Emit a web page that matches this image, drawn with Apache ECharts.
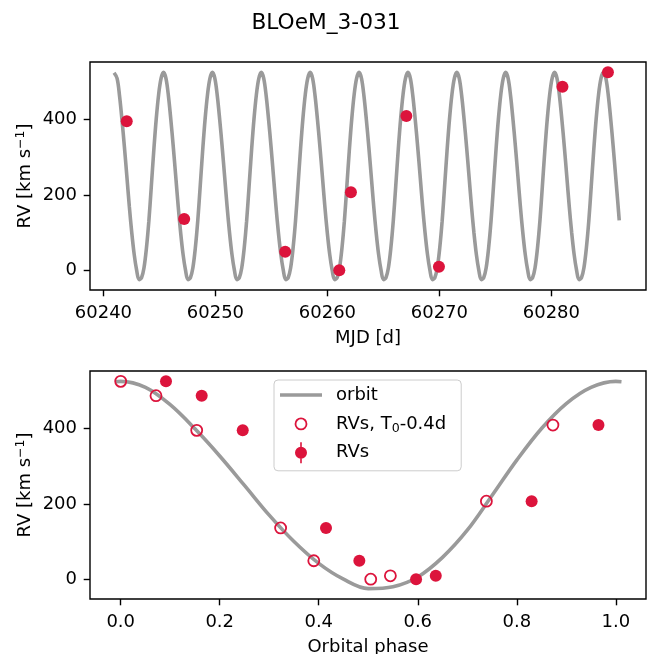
<!DOCTYPE html>
<html><head><meta charset="utf-8">
<script src="https://cdn.jsdelivr.net/npm/echarts@6/dist/echarts.min.js"></script>
<style>html,body{margin:0;padding:0;background:#fff}#c{width:652px;height:654px}</style>
</head><body><div id="c"></div>
<script>
// ---------------- data ----------------
const chartTitle = 'BLOeM_3-031';

// observed RVs, top panel (time domain)
const rvMJD   = [60242.08, 60247.21, 60256.23, 60261.06, 60262.10, 60267.05, 60269.96, 60280.99, 60285.05];
const rvValue = [395, 136, 49, 0, 207, 409, 9, 487, 525];
// same RVs folded on the orbital phase (filled) and with T0-0.4d (open)
const rvPhase      = [0.2465, 0.4147, 0.482, 0.5966, 0.830, 0.965, 0.6364, 0.1636, 0.0915];
const rvPhaseShift = [0.1535, 0.323, 0.390, 0.505, 0.7386, 0.873, 0.5447, 0.0713, 0.000];

const orbitPhase = [-0.0115, 0.00, 0.05, 0.10, 0.15, 0.20, 0.25, 0.30, 0.35, 0.40, 0.45, 0.50,
                    0.55, 0.60, 0.65, 0.70, 0.75, 0.80, 0.85, 0.90, 0.95, 1.00, 1.0115];
const orbitRV    = [524, 525, 509, 463, 399, 327, 249, 170, 100, 42, 0, -25,
                    -20, 6, 58, 130, 222, 316, 400, 466, 509, 525, 524];
// period and reference epoch read from the repeating peaks in the upper panel
const orbitPeriod = 4.365;
const orbitT0     = 60241.0;
const orbitEndMJD = 60286.06;
const orbitEndRV  = 132;

// tick labels
const mjdTicks   = [60240, 60250, 60260, 60270, 60280];
const rvTicks    = [0, 200, 400];
const phaseTicks = [0.0, 0.2, 0.4, 0.6, 0.8, 1.0];

// ---------------- build series data ----------------
const topPoints = rvMJD.map((t, i) => [t, rvValue[i]]);
const phasePoints = rvPhase.map((p, i) => [p, rvValue[i]]);
const phaseShiftPoints = rvPhaseShift.map((p, i) => [p, rvValue[i]]);
const phaseCurve = orbitPhase.map((p, i) => [p, orbitRV[i]]);

const topCurve = [];
outer:
for (let k = 0; k <= 10; k++) {
  for (let i = 0; i < orbitPhase.length; i++) {
    const ph = orbitPhase[i];
    if (ph >= 1) continue;
    if (k > 0 && ph < 0) continue;
    const t = orbitT0 + (k + ph) * orbitPeriod;
    if (t > orbitEndMJD) break outer;
    topCurve.push([t, orbitRV[i]]);
  }
}
topCurve.push([orbitEndMJD, orbitEndRV]);

// ---------------- styling ----------------
const FONT = 'DejaVu Sans';
const RED = '#dc143c';
const GREY = '#9a9a9a';

const tickStyle = {show: true, inside: false, length: 6.3, lineStyle: {color: '#000', width: 1.4}};
const labelBase = {color: '#000', fontSize: 18, fontFamily: FONT};

function yAxis(gridIndex) {
  return {
    type: 'value', gridIndex, min: -52.5, max: 552.5,
    name: 'RV [km s{sup|−1}]', nameLocation: 'middle', nameGap: 54, nameMoveOverlap: false,
    nameTextStyle: {color: '#000', fontSize: 18, fontFamily: FONT, lineHeight: 22,
      rich: {sup: {fontSize: 12.6, fontFamily: FONT, color: '#000', lineHeight: 12, verticalAlign: 'top'}}},
    axisLine: {show: false, onZero: false},
    axisTick: Object.assign({customValues: rvTicks}, tickStyle),
    axisLabel: Object.assign({customValues: rvTicks, margin: 13, formatter: v => String(v)}, labelBase),
    splitLine: {show: false}
  };
}

const lineIcon = 'path://M0,0 M0,22 M0,9.2 L42,9.2 L42,12.8 L0,12.8 Z';
const openIcon = 'path://M6,0 M6,22 M0.5,11 A5.5,5.5 0 1,1 11.5,11 A5.5,5.5 0 1,1 0.5,11 Z';
const fillIcon = 'path://M6,0 M6,22 M0,11 A6,6 0 1,1 12,11 A6,6 0 1,1 0,11 Z M5.2,0.5 L6.8,0.5 L6.8,5.5 L5.2,5.5 Z M5.2,16.5 L6.8,16.5 L6.8,21.5 L5.2,21.5 Z';

const gridBase = {left: 90, right: 6, height: 228, show: true, borderColor: '#000', borderWidth: 1.4,
  backgroundColor: 'transparent', containLabel: false, outerBoundsMode: 'none'};

const option = {
  animation: false,
  backgroundColor: '#fff',
  title: {text: chartTitle, left: 'center', top: 7,
    textStyle: {fontSize: 21.7, fontWeight: 'normal', fontFamily: FONT, color: '#000'}},
  grid: [
    Object.assign({top: 62}, gridBase),
    Object.assign({top: 371}, gridBase)
  ],
  xAxis: [
    {type: 'value', gridIndex: 0, min: 60238.8, max: 60288.45,
     name: 'MJD [d]', nameLocation: 'middle', nameGap: 39, nameMoveOverlap: false,
     nameTextStyle: {color: '#000', fontSize: 18, fontFamily: FONT},
     axisLine: {show: false, onZero: false},
     axisTick: Object.assign({customValues: mjdTicks}, tickStyle),
     axisLabel: Object.assign({customValues: mjdTicks, margin: 14, formatter: v => String(v)}, labelBase),
     splitLine: {show: false}},
    {type: 'value', gridIndex: 1, min: -0.062, max: 1.061,
     name: 'Orbital phase', nameLocation: 'middle', nameGap: 39, nameMoveOverlap: false,
     nameTextStyle: {color: '#000', fontSize: 18, fontFamily: FONT},
     axisLine: {show: false, onZero: false},
     axisTick: Object.assign({customValues: phaseTicks}, tickStyle),
     axisLabel: Object.assign({customValues: phaseTicks, margin: 14, formatter: v => v.toFixed(1)}, labelBase),
     splitLine: {show: false}}
  ],
  yAxis: [yAxis(0), yAxis(1)],
  legend: {
    orient: 'vertical', left: 274, top: 380,
    itemWidth: 42, itemHeight: 22, itemGap: 6,
    padding: [4, 15, 7, 6],
    backgroundColor: 'rgba(255,255,255,0.8)', borderColor: '#cccccc', borderWidth: 1, borderRadius: 4,
    textStyle: {fontSize: 18, fontFamily: FONT, color: '#000', padding: [0, 0, 0, 9], lineHeight: 22,
      rich: {sub: {fontSize: 12.6, fontFamily: FONT, color: '#000', lineHeight: 12, verticalAlign: 'bottom'}}},
    formatter: n => n === 'RVs, T0-0.4d' ? 'RVs, T{sub|0}-0.4d' : n,
    data: [
      {name: 'orbit', icon: lineIcon, itemStyle: {color: GREY, borderWidth: 0}},
      {name: 'RVs, T0-0.4d', icon: openIcon, itemStyle: {borderWidth: 1.8}},
      {name: 'RVs', icon: fillIcon}
    ]
  },
  series: [
    {name: 'orbit', type: 'line', xAxisIndex: 0, yAxisIndex: 0, data: topCurve,
     symbol: 'none', smooth: 0.35, lineStyle: {color: GREY, width: 3.6}, itemStyle: {color: GREY}, z: 2},
    {name: 'RVs', type: 'scatter', xAxisIndex: 0, yAxisIndex: 0, data: topPoints,
     symbol: 'circle', symbolSize: 12, itemStyle: {color: RED, opacity: 1}, z: 3},
    {name: 'orbit', type: 'line', xAxisIndex: 1, yAxisIndex: 1, data: phaseCurve,
     symbol: 'none', smooth: 0.35, lineStyle: {color: GREY, width: 3.6}, itemStyle: {color: GREY}, z: 2},
    {name: 'RVs, T0-0.4d', type: 'scatter', xAxisIndex: 1, yAxisIndex: 1, data: phaseShiftPoints,
     symbol: 'circle', symbolSize: 11,
     itemStyle: {color: 'rgba(0,0,0,0)', borderColor: RED, borderWidth: 1.8, opacity: 1}, z: 3},
    {name: 'RVs', type: 'scatter', xAxisIndex: 1, yAxisIndex: 1, data: phasePoints,
     symbol: 'circle', symbolSize: 12, itemStyle: {color: RED, opacity: 1}, z: 4}
  ]
};

const chart = echarts.init(document.getElementById('c'), null, {renderer: 'canvas'});
chart.setOption(option);
</script>
</body></html>
